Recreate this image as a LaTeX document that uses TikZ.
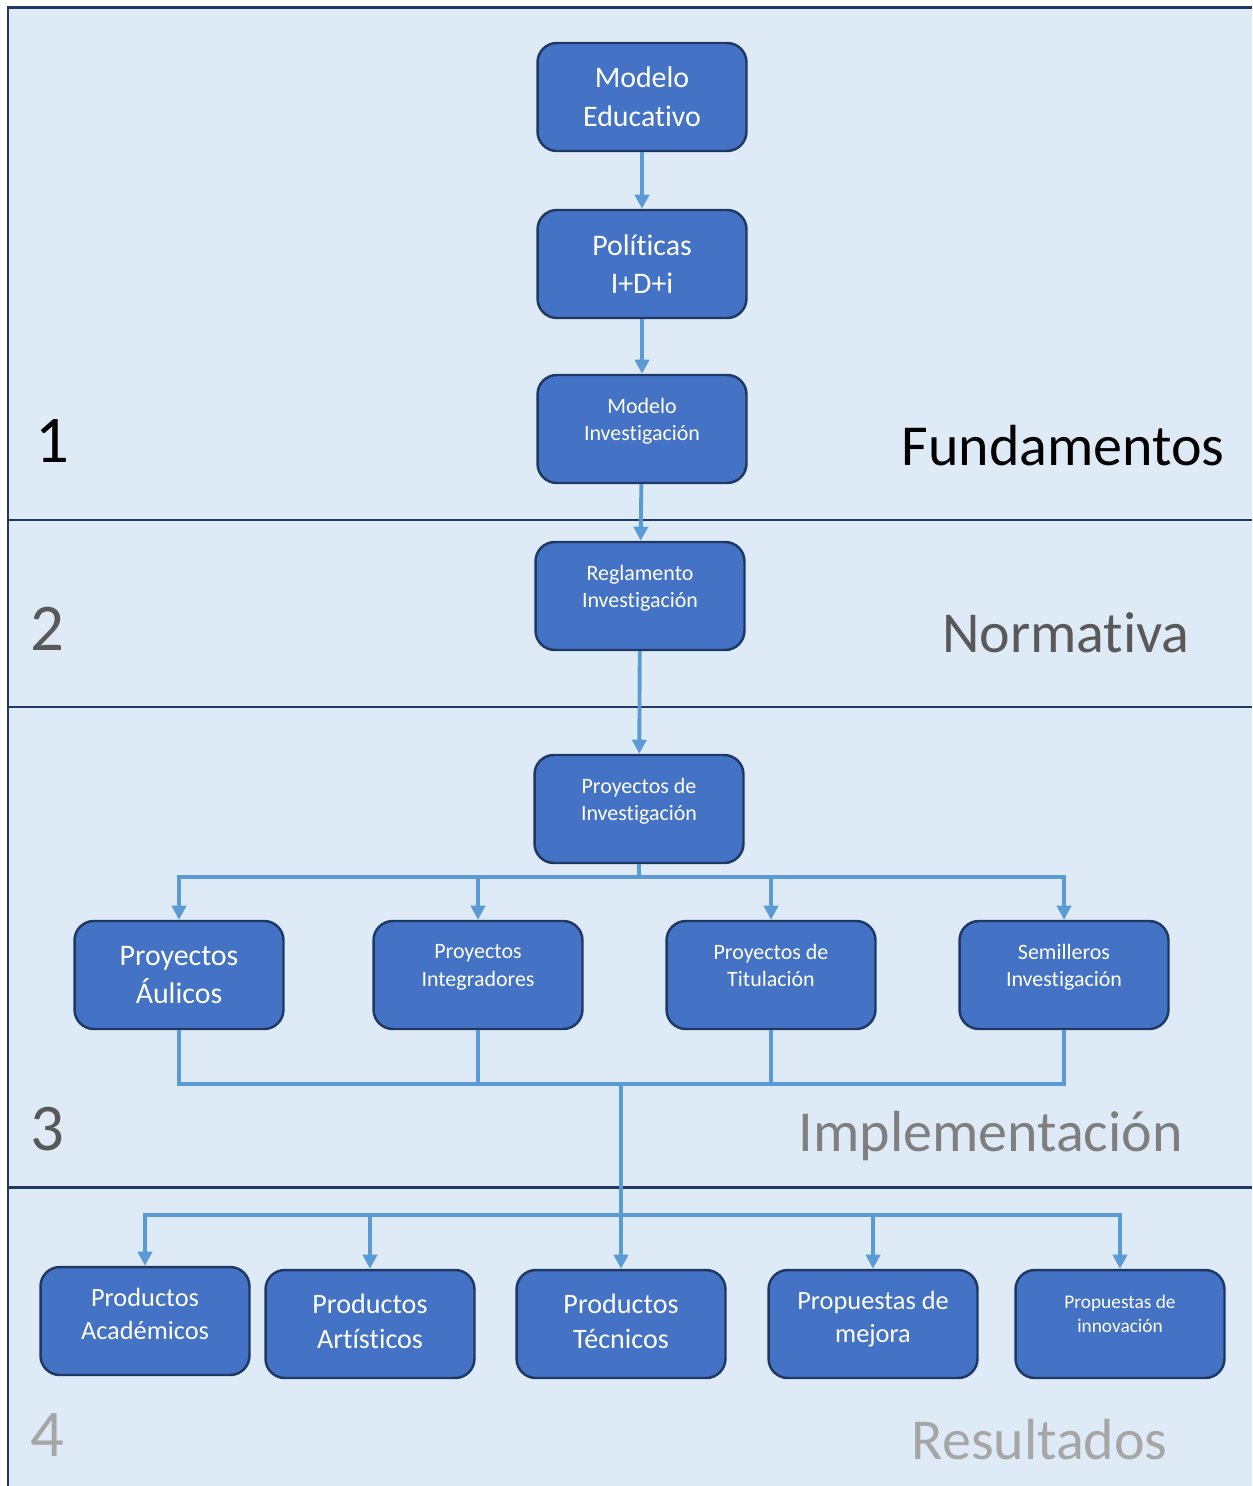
\documentclass[tikz,border=0pt]{standalone}
\usepackage{fontspec}
\setmainfont{Carlito}[Ligatures={NoCommon}]
\usetikzlibrary{arrows.meta}
\definecolor{fondo}{HTML}{DEEAF6}
\definecolor{caja}{HTML}{4472C4}
\definecolor{borde}{HTML}{1F3864}
\definecolor{flecha}{HTML}{5B9BD5}
\definecolor{gris}{HTML}{595959}
\definecolor{grismed}{HTML}{7F7F7F}
\definecolor{grisclaro}{HTML}{A6A6A6}
\newcommand{\grande}{\fontsize{17}{22}\selectfont}
\newcommand{\media}{\fontsize{15}{18.5}\selectfont}
\newcommand{\chica}{\fontsize{12.5}{15.5}\selectfont}
\newcommand{\minima}{\fontsize{11}{13.5}\selectfont}
\tikzset{
  bloque/.style={draw=borde, line width=1.4pt, fill=caja, rounded corners=11pt,
    minimum width=4.18cm, minimum height=2.16cm, text=white, align=center},
  subir/.style={text depth=#1},
  linea/.style={draw=flecha, line width=2.2pt},
  flec/.style={linea, -{Triangle[width=8pt,length=8pt]}},
  sep/.style={draw=borde, line width=1.7pt},
  numero/.style={font=\fontsize{38}{44}\selectfont, anchor=base, inner sep=0pt},
  titulo/.style={font=\fontsize{33}{40}\selectfont, anchor=base east, inner sep=0pt}
}

\begin{document}
\begin{tikzpicture}[x=0.02cm, y=-0.02cm]

\useasboundingbox[fill=white] (0,0) rectangle (1252,1486);
\fill[fondo] (8,8) rectangle (1252,1486);
\draw[sep] (8,1486) -- (8,8) -- (1252,8);
\foreach \y in {520,707,1187}
\draw[sep] (8,\y) -- (1252,\y);

% franjas
\node[numero] (n1) at (52,462) {1};
\node[numero, text=gris] (n2) at (47,650) {2};
\node[numero, text=gris] (n3) at (47,1150) {3};
\node[numero, text=grisclaro] (n4) at (47,1456) {4};
\node[titulo] (fun) at (1225,465) {Fundamentos};
\node[titulo, text=gris] (nor) at (1190,652) {Normativa};
\node[titulo, text=grismed] (imp) at (1183,1151) {Implementación};
\node[titulo, text=grisclaro] (res) at (1168,1459) {Resultados};

% cadena central
\node[bloque, font=\grande] (me) at (642,97) {Modelo\\Educativo};
\node[bloque, font=\grande] (pol) at (642,264) {Políticas\\I+D+i};
\node[bloque, font=\chica, subir=11pt] (mi) at (642,429) {Modelo\\Investigación};
\node[bloque, font=\chica, subir=11pt] (ri) at (640,596) {Reglamento\\Investigación};
\node[bloque, font=\chica, subir=11pt] (pinv) at (639,809) {Proyectos de\\Investigación};

% proyectos
\node[bloque, font=\grande] (pau) at (179,975) {Proyectos\\Áulicos};
\node[bloque, font=\chica, subir=11pt] (pint) at (478,975) {Proyectos\\Integradores};
\node[bloque, font=\chica, subir=11pt] (ptit) at (771,975) {Proyectos de\\Titulación};
\node[bloque, font=\chica, subir=11pt] (sem) at (1064,975) {Semilleros\\Investigación};

% resultados
\node[bloque, font=\media, subir=8pt] (pac) at (145,1321) {Productos\\Académicos};
\node[bloque, font=\fontsize{16}{20}\selectfont, subir=3.5pt] (par) at (370,1324) {Productos\\Artísticos};
\node[bloque, font=\fontsize{16}{20}\selectfont, subir=3.5pt] (pte) at (621,1324) {Productos\\Técnicos};
\node[bloque, font=\media, subir=8pt] (pme) at (873,1324) {Propuestas de\\mejora};
\node[bloque, font=\minima, subir=12pt] (pin) at (1120,1324) {Propuestas de\\innovación};

\draw[flec] (me) -- (pol);
\draw[flec] (pol) -- (mi);
\draw[flec] (mi) -- (ri);
\draw[flec] (ri) -- (pinv);

\draw[linea] (pinv.south) -- ++(0,13) coordinate (bus);
\foreach \n in {pau,pint,ptit,sem}
\draw[flec] (bus) -| (\n.north);

\coordinate (union) at (621,1084);
\foreach \n in {pau,pint,ptit,sem}
\draw[linea] (\n.south) |- (union);
\draw[flec, line width=2.8pt] (union) -- (pte.north);

\coordinate (reparto) at (621,1215);
\foreach \n in {pac,par,pme,pin}
\draw[flec] (reparto) -| (\n.north);

\end{tikzpicture}
\end{document}
